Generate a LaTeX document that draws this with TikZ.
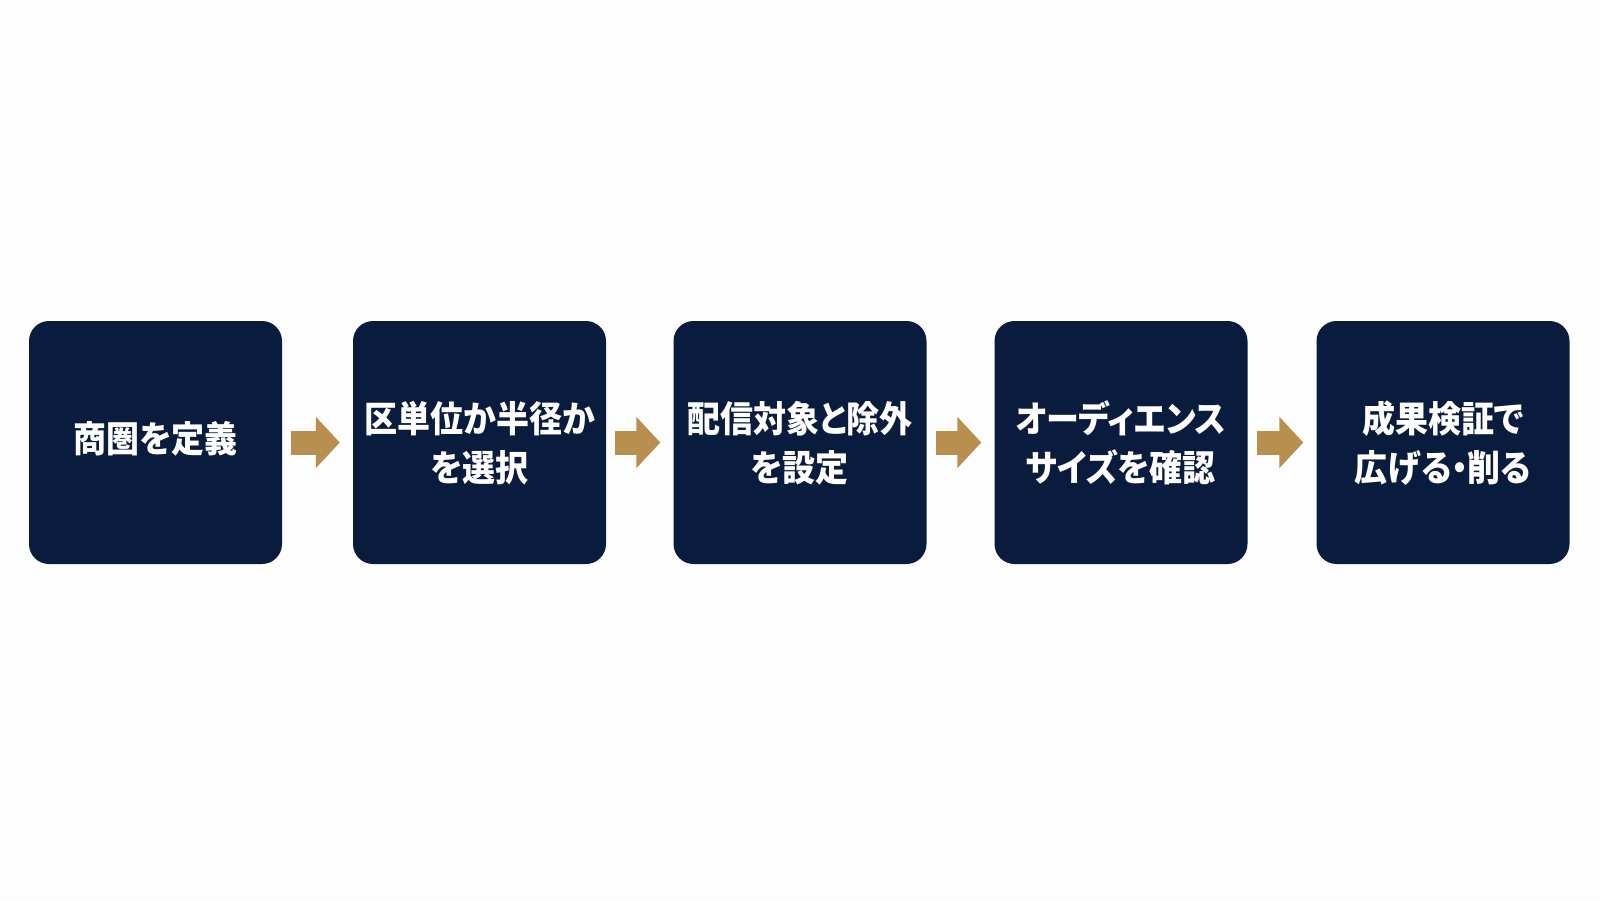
\documentclass[tikz,border=0pt]{standalone}
\usepackage{fontspec}
\usepackage{graphicx}
\setmainfont{Noto Sans CJK JP}[RawFeature=+palt]
\usetikzlibrary{arrows.meta}
\definecolor{navy}{HTML}{0A1C3E}
\definecolor{gold}{HTML}{B88F4F}
\definecolor{bg}{HTML}{FDFDFD}
\newcommand\steptext[1]{\raisebox{-5pt}[\height][\depth]{\scalebox{1}[1.1]{\begin{tabular}{@{}c@{}}#1\end{tabular}}}}
\begin{document}
\begin{tikzpicture}[x=1pt,y=-1pt,
  stepbox/.style={fill=navy, rounded corners=20pt, minimum width=253pt, minimum height=243pt,
    text=white, font=\fontsize{33pt}{44.5pt}\selectfont\bfseries, align=center, inner sep=0pt},
  flow/.style={draw=gold, line width=24pt, shorten <=9pt, shorten >=13pt,
    -{Triangle[length=24pt,width=50pt]}}]
\fill[bg] (0,0) rectangle (1600,900);
\useasboundingbox (0,0) rectangle (1600,900);
\node[stepbox] (s1) at (155.5,442.5) {\raisebox{5pt}[\height][\depth]{\steptext{商圏を定義}}};
\node[stepbox] (s2) at (479.5,442.5) {\steptext{区単位か半径か\\を選択}};
\node[stepbox] (s3) at (800,442.5) {\steptext{配信対象と除外\\を設定}};
\node[stepbox] (s4) at (1121,442.5) {\steptext{オーディエンス\\サイズを確認}};
\node[stepbox] (s5) at (1443,442.5) {\steptext{成果検証で\\広げる・削る}};
\draw[flow] (s1.east) -- (s2.west);
\draw[flow] (s2.east) -- (s3.west);
\draw[flow] (s3.east) -- (s4.west);
\draw[flow] (s4.east) -- (s5.west);
\end{tikzpicture}
\end{document}
